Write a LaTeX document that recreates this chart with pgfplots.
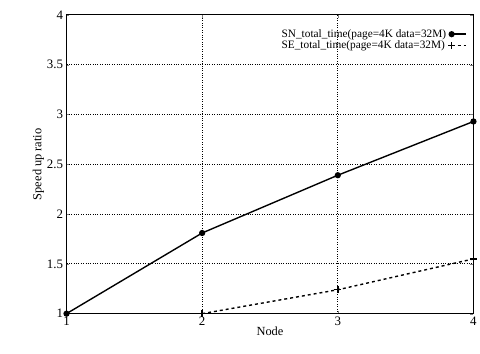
\documentclass[border=0pt]{standalone}
\usepackage{fontspec}
\setmainfont{Liberation Serif}
\usepackage{pgfplots}
\pgfplotsset{compat=1.18}
\begin{document}
\begin{tikzpicture}
\begin{axis}[
  scale only axis,
  width=410pt, height=301pt,
  at={(0,0)}, anchor=south west,
  xmin=1, xmax=4, ymin=1, ymax=4,
  xtick={1,2,3,4},
  ytick={1,1.5,2,2.5,3,3.5,4},
  yticklabels={1,1.5,2,2.5,3,3.5,4},
  xticklabels={1,2,3,4},
  tick label style={font=\fontsize{13}{15}\selectfont},
  xmajorgrids, ymajorgrids,
  grid style={dotted, black, line width=0.8pt},
  axis line style={line width=1.2pt},
  major tick length=3pt,
  xlabel={Node}, ylabel={Speed up ratio},
  label style={font=\fontsize{12.5}{14}\selectfont},
  xlabel style={yshift=6pt},
  ylabel style={yshift=-4pt},
  legend style={draw=none, fill=none, at={(0.99,0.965)}, anchor=north east,
    font=\fontsize{11.4}{12.5}\selectfont, row sep=-2pt, legend cell align=left,
    /tikz/every even column/.append style={column sep=9pt}},
  legend plot pos=right,
  legend image code/.code={%
    \draw[mark repeat=2,mark phase=1,#1] plot coordinates {(0pt,0pt) (14pt,0pt)};},
]
\addplot[black, line width=1.4pt, mark=*, mark size=2.4pt] coordinates {
 (1,1) (2,1.81) (3,2.39) (4,2.93)};
\addlegendentry{SN\_total\_time(page=4K data=32M)}
\addplot[black, line width=1.4pt, dashed, mark=+, mark size=3.5pt, mark options={solid}] coordinates {
 (2,1.0) (3,1.24) (4,1.55)};
\addlegendentry{SE\_total\_time(page=4K data=32M)}
\end{axis}
\useasboundingbox (-67pt,-40pt) rectangle (413pt,316pt);
\end{tikzpicture}
\end{document}
